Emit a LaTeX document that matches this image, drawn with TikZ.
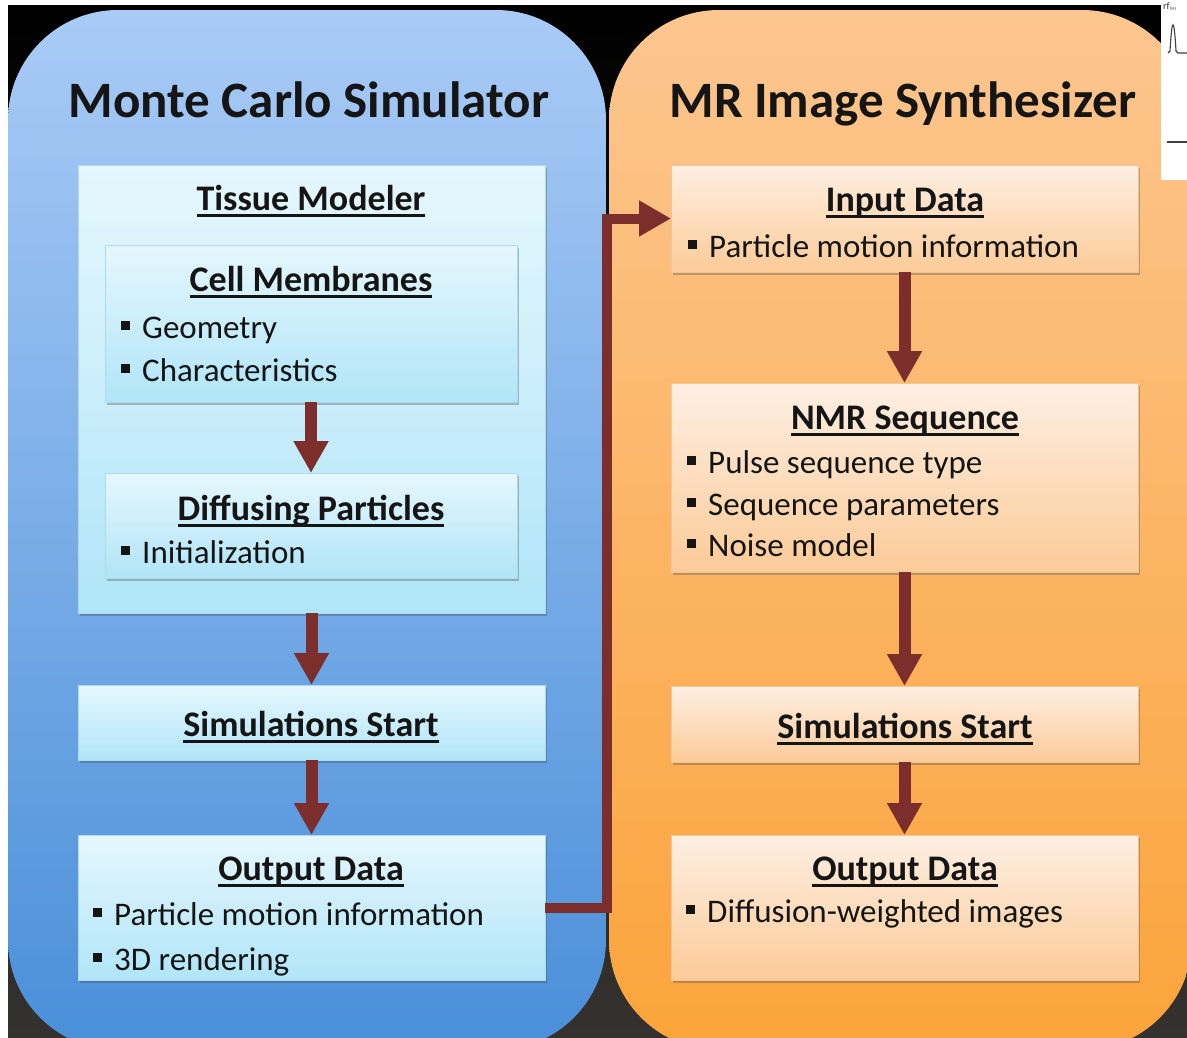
\documentclass[tikz,border=0pt]{standalone}
\usepackage{fontspec}
\setmainfont{Carlito}
\usetikzlibrary{arrows.meta,shadows}

\definecolor{bgbot}{HTML}{35312E}
\definecolor{bluetop}{HTML}{A9CBF6}
\definecolor{bluebot}{HTML}{4A8FD9}
\definecolor{orgtop}{HTML}{FCC690}
\definecolor{orgbot}{HTML}{FBA43A}
\definecolor{cyantop}{HTML}{E6F7FD}
\definecolor{cyanbot}{HTML}{B0E5F8}
\definecolor{peachtop}{HTML}{FDEFE3}
\definecolor{peachbot}{HTML}{FCCB98}
\definecolor{flowred}{HTML}{7B2E2B}
\definecolor{ink}{HTML}{151515}

% underlined heading with a fixed rule position
\newcommand\ulin[1]{\setbox0\hbox{#1}\rlap{\rule[-6.5pt]{\wd0}{2.4pt}}\box0}
% square bullet
\newcommand\bsq{\rule[8.5pt]{9pt}{9pt}\hspace{12pt}}

\begin{document}
\begin{tikzpicture}[x=1pt,y=-1pt,
  panelL/.style={rounded corners=110pt, top color=bluetop, bottom color=bluebot},
  panelR/.style={rounded corners=110pt, top color=orgtop, bottom color=orgbot},
  boxbase/.style={anchor=north west, inner sep=0pt, outer sep=0pt,
    drop shadow={shadow xshift=1.5pt, shadow yshift=-3pt, opacity=0.35, fill=black!70}},
  cbox/.style={boxbase, top color=cyantop, bottom color=cyanbot, draw=cyanbot!90!gray, line width=0.6pt},
  obox/.style={boxbase, top color=peachtop, bottom color=peachbot, draw=peachbot!92!gray, line width=0.6pt},
  title/.style={font=\fontsize{51}{60}\selectfont\bfseries, text=ink, anchor=base, inner sep=0pt},
  head/.style={font=\fontsize{36}{43}\selectfont\bfseries, text=ink, anchor=base, inner sep=0pt},
  item/.style={font=\fontsize{33}{40}\selectfont, text=ink, anchor=base west, inner sep=0pt},
  flow/.style={draw=flowred, line width=12pt, -{Triangle[width=33pt,length=32pt]}},
  link/.style={draw=flowred, line width=10pt, line join=miter, -{Triangle[width=34pt,length=32pt]}}
]
\useasboundingbox (0,0) rectangle (1187,1037);
\clip (0,0) rectangle (1187,1037);

% background
\fill[white] (0,0) rectangle (1187,1037);
\shade[top color=black, bottom color=bgbot] (8,5) rectangle (1187,1037);

% the two panels
\shade[panelL] (8,10) rectangle (606,1050);
\shade[panelR] (609,10) rectangle (1192,1050);

% panel titles
\node[title] (tL) at (309,117) {Monte Carlo Simulator};
\node[title] (tR) at (903,117) {MR Image Synthesizer};

% ---- Monte Carlo Simulator ----
\node[cbox, minimum width=467pt, minimum height=448pt] (tissue) at (78,165) {};
\node[head] (hTissue) at (311,210) {\ulin{Tissue Modeler}};

\node[cbox, minimum width=412pt, minimum height=157pt] (cell) at (105,245) {};
\node[head] (hCell) at (311,291) {\ulin{Cell Membranes}};
\node[item] (iGeo) at (121,338) {\bsq Geometry};
\node[item] (iChar) at (121,381) {\bsq Characteristics};

\node[cbox, minimum width=412pt, minimum height=105pt] (diff) at (105,473) {};
\node[head] (hDiff) at (311,520) {\ulin{Diffusing Particles}};
\node[item] (iInit) at (121,563) {\bsq Initialization};

\node[cbox, minimum width=467pt, minimum height=75pt] (simL) at (78,685) {};
\node[head] (hSimL) at (311,736) {\ulin{Simulations Start}};

\node[cbox, minimum width=467pt, minimum height=145pt] (outL) at (78,835) {};
\node[head] (hOutL) at (311,880) {\ulin{Output Data}};
\node[item] (iPart) at (93,925) {\bsq Particle motion information};
\node[item] (i3D) at (93,970) {\bsq 3D rendering};

% ---- MR Image Synthesizer ----
\node[obox, minimum width=467pt, minimum height=107pt] (inR) at (671,165) {};
\node[head] (hInR) at (905,211) {\ulin{Input Data}};
\node[item] (iPartR) at (688,257) {\bsq Particle motion information};

\node[obox, minimum width=467pt, minimum height=189pt] (nmr) at (671,383) {};
\node[head] (hNmr) at (905,429) {\ulin{NMR Sequence}};
\node[item] (iPulse) at (687,473) {\bsq Pulse sequence type};
\node[item] (iSeq) at (687,515) {\bsq Sequence parameters};
\node[item] (iNoise) at (687,556) {\bsq Noise model};

\node[obox, minimum width=467pt, minimum height=76pt] (simR) at (671,686) {};
\node[head] (hSimR) at (905,738) {\ulin{Simulations Start}};

\node[obox, minimum width=467pt, minimum height=145pt] (outR) at (671,835) {};
\node[head] (hOutR) at (905,880) {\ulin{Output Data}};
\node[item] (iDiffW) at (686,922) {\bsq Diffusion-weighted images};

% ---- connectors ----
\draw[flow] (cell.south) -- (diff.north);
\draw[flow] (tissue.south) -- (simL.north);
\draw[flow] (simL.south) -- (outL.north);
\draw[link] (outL.east) -- ++(62,0) |- (inR.west);
\draw[flow] (inR.south) -- (nmr.north);
\draw[flow] (nmr.south) -- (simR.north);
\draw[flow] (simR.south) -- (outR.north);

% ---- corner of an adjacent pulse-sequence figure ----
\fill[white] (1161,0) rectangle (1187,180);
\node[font=\fontsize{10}{11}\selectfont, text=black!80, anchor=north west, inner sep=0pt] (rf) at (1163,2) {rf$_{\scriptscriptstyle 90}$};
\draw[black!75, line width=1.1pt] (1168,53) -- (1170,51) .. controls (1172,16) and (1174,16) .. (1176,51) -- (1178,53) -- (1187,53);
\draw[black!75, line width=1.1pt] (1167,142) -- (1187,142);
\end{tikzpicture}
\end{document}
